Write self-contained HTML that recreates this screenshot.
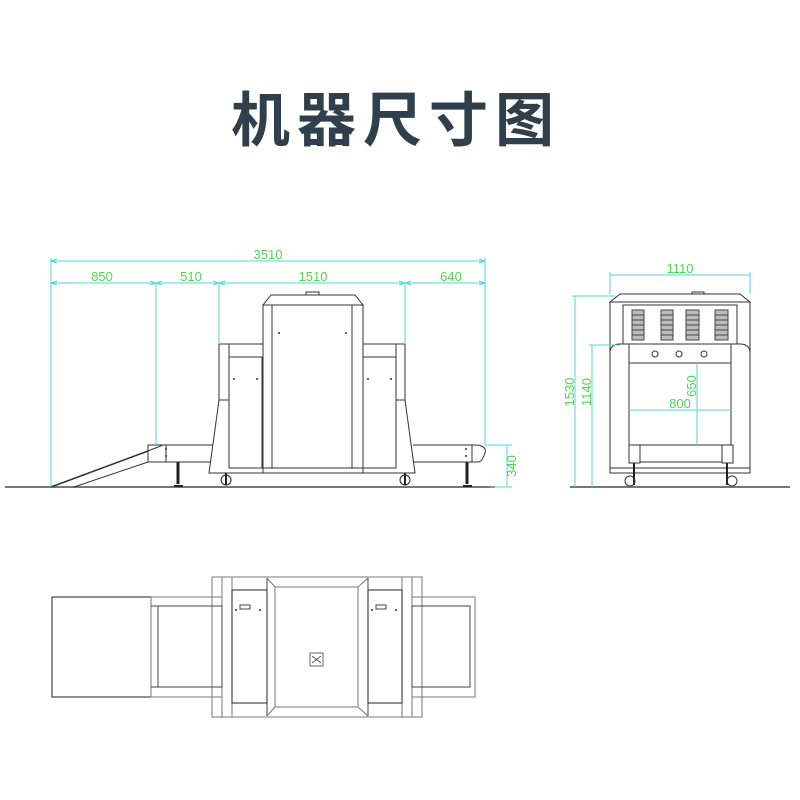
<!DOCTYPE html>
<html><head><meta charset="utf-8"><style>
html,body{margin:0;padding:0;background:#fff;width:800px;height:800px;overflow:hidden}
</style></head><body>
<svg width="800" height="800" viewBox="0 0 800 800" xmlns="http://www.w3.org/2000/svg">
<text x="396" y="141" text-anchor="middle" font-family="'Liberation Sans','Noto Sans CJK SC',sans-serif" font-weight="bold" font-size="59" letter-spacing="7" fill="#2f3f4b">机器尺寸图</text>

<g fill="none" stroke="#333" stroke-width="1">
<line x1="5" y1="487" x2="495" y2="487" stroke="#777" stroke-width="2"/>
<polygon points="263,305 271,295 355,295 363,305"/>
<rect x="306" y="292" width="13" height="3"/>
<rect x="263" y="305" width="100" height="168"/>
<rect x="272" y="305" width="80" height="163"/>
<polyline points="263,344 219,344 219,400 209,473 263,473"/>
<line x1="229" y1="344" x2="229" y2="468"/>
<line x1="219" y1="400" x2="229" y2="400"/>
<rect x="229" y="357" width="33" height="111"/>
<polyline points="363,344 405,344 405,400 415,473 363,473"/>
<line x1="396" y1="344" x2="396" y2="468"/>
<line x1="405" y1="400" x2="396" y2="400"/>
<rect x="363" y="357" width="33" height="111"/>
<line x1="229" y1="468" x2="396" y2="468"/>
<polyline points="213,445 163,445 148,451"/>
<line x1="163" y1="462" x2="211" y2="462"/>
<rect x="148" y="445" width="18" height="17"/>
<line x1="148" y1="451" x2="51" y2="487" stroke-width="1.5"/>
<line x1="148" y1="462" x2="74" y2="487"/>
<line x1="413" y1="445" x2="478" y2="445"/>
<line x1="413" y1="462" x2="478" y2="462"/>
<path d="M478,445 Q487,447 485,453 Q482,462 478,462"/>
<line x1="472" y1="445" x2="472" y2="462"/>
<g stroke="#222"><line x1="178" y1="462" x2="178" y2="484" stroke-width="3"/><line x1="174" y1="486" x2="183" y2="486" stroke-width="2"/>
<line x1="467" y1="462" x2="467" y2="484" stroke-width="3"/><line x1="463" y1="486" x2="472" y2="486" stroke-width="2"/>
<circle cx="226" cy="480" r="5"/><line x1="226" y1="473" x2="226" y2="485" stroke-width="2"/>
<circle cx="405" cy="480" r="5"/><line x1="405" y1="473" x2="405" y2="485" stroke-width="2"/></g>
</g>
<g fill="#333"><circle cx="279" cy="333" r="1"/><circle cx="346" cy="333" r="1"/><circle cx="234" cy="379" r="1"/><circle cx="257" cy="379" r="1"/><circle cx="368" cy="379" r="1"/><circle cx="391" cy="379" r="1"/><circle cx="166" cy="449" r="1"/><circle cx="166" cy="456" r="1"/><circle cx="466" cy="449" r="1"/><circle cx="466" cy="456" r="1"/></g>

<g stroke="#4fd7e0" stroke-width="1" fill="none">
<line x1="51" y1="261" x2="485" y2="261"/>
<line x1="51" y1="283" x2="485" y2="283"/>
<line x1="51" y1="258" x2="51" y2="487"/>
<line x1="485" y1="258" x2="485" y2="445"/>
<line x1="156" y1="283" x2="156" y2="445"/>
<line x1="219" y1="283" x2="219" y2="344"/>
<line x1="405" y1="283" x2="405" y2="344"/>
<line x1="507" y1="445" x2="507" y2="487"/>
<line x1="485" y1="445" x2="512" y2="445"/>
<line x1="490" y1="487" x2="512" y2="487"/>
<path d="M57,259L51,261L57,263M479,259L485,261L479,263M57,281L51,283L57,285M150,281L156,283L150,285M162,281L156,283L162,285M213,281L219,283L213,285M225,281L219,283L225,285M399,281L405,283L399,285M411,281L405,283L411,285M479,281L485,283L479,285"/>
</g>
<g fill="#4fd74f" font-family="'Liberation Sans',sans-serif" font-size="13" text-anchor="middle">
<text x="268" y="259">3510</text><text x="102" y="281">850</text><text x="191" y="281">510</text><text x="313" y="281">1510</text><text x="451" y="281">640</text>
<text transform="translate(516,466) rotate(-90)">340</text>
</g>

<g fill="none" stroke="#333" stroke-width="1">
<line x1="570" y1="487" x2="790" y2="487" stroke="#777" stroke-width="2"/>
<polygon points="610,302 620,294 740,294 750,302"/>
<rect x="692" y="292" width="12" height="2"/>
<path d="M610,302 V473 H750 V302"/>
<rect x="623" y="305" width="114" height="39"/>
<path d="M610,352 Q611,344 620,344 H740 Q749,344 750,352"/>
<rect x="629" y="344" width="102" height="101"/>
<line x1="629" y1="363" x2="731" y2="363"/>
<circle cx="655" cy="354" r="3"/><circle cx="679" cy="354" r="3"/><circle cx="704" cy="354" r="3"/>
<rect x="640" y="445" width="82" height="17"/>
<line x1="610" y1="468" x2="750" y2="468"/>
<rect x="629" y="445" width="11" height="18"/><rect x="722" y="445" width="11" height="18"/>
<g stroke="#222" stroke-width="2"><line x1="634" y1="463" x2="634" y2="485"/><line x1="727" y1="463" x2="727" y2="485"/></g>
<circle cx="630" cy="481" r="5"/><circle cx="732" cy="481" r="5"/>
</g>
<g fill="#bbb" stroke="#444" stroke-width="1">
<rect x="632" y="310" width="12" height="30"/><rect x="661" y="310" width="12" height="30"/><rect x="686" y="310" width="13" height="30"/><rect x="715" y="310" width="13" height="30"/>
</g>
<g stroke="#444" stroke-width="1">
<path d="M632,315h12M632,320h12M632,325h12M632,330h12M632,335h12"/>
<path d="M661,315h12M661,320h12M661,325h12M661,330h12M661,335h12"/>
<path d="M686,315h13M686,320h13M686,325h13M686,330h13M686,335h13"/>
<path d="M715,315h13M715,320h13M715,325h13M715,330h13M715,335h13"/>
</g>
<g stroke="#4fd7e0" stroke-width="1" fill="none">
<line x1="610" y1="275" x2="750" y2="275"/>
<line x1="750" y1="272" x2="750" y2="294"/>
<line x1="610" y1="272" x2="610" y2="294"/>
<line x1="575" y1="296" x2="575" y2="487"/><line x1="572" y1="296" x2="615" y2="296"/>
<line x1="592" y1="345" x2="592" y2="487"/><line x1="589" y1="345" x2="620" y2="345"/>
<line x1="697" y1="363" x2="697" y2="445"/>
<line x1="629" y1="410" x2="731" y2="410"/>
</g>
<g fill="#4fd74f" font-family="'Liberation Sans',sans-serif" font-size="13" text-anchor="middle">
<text x="680" y="273">1110</text><text x="680" y="408">800</text>
<text transform="translate(574,392) rotate(-90)">1530</text>
<text transform="translate(591,392) rotate(-90)">1140</text>
<text transform="translate(696,386) rotate(-90)">650</text>
</g>

<g fill="none" stroke="#444" stroke-width="1">
<rect x="212" y="577" width="210" height="140" stroke="#777"/>
<line x1="222" y1="577" x2="222" y2="717" stroke="#777"/><line x1="232" y1="577" x2="232" y2="717" stroke="#777"/>
<line x1="402" y1="577" x2="402" y2="717" stroke="#777"/><line x1="412" y1="577" x2="412" y2="717" stroke="#777"/>
<line x1="267" y1="578" x2="267" y2="716"/><line x1="368" y1="578" x2="368" y2="716"/>
<rect x="275" y="587" width="83" height="120" stroke="#777"/>
<path d="M267,578L275,587M368,578L358,587M267,716L275,707M368,716L358,707" stroke="#777"/>
<rect x="232" y="590" width="35" height="113" stroke="#222"/>
<rect x="368" y="590" width="34" height="113" stroke="#222"/>
<rect x="240" y="605" width="10" height="4"/><rect x="376" y="605" width="10" height="4"/>
<rect x="52" y="597" width="99" height="100" stroke="#222"/>
<rect x="151" y="597" width="71" height="100" stroke="#777"/>
<rect x="158" y="606" width="64" height="81"/>
<line x1="151" y1="606" x2="158" y2="606"/><line x1="151" y1="687" x2="158" y2="687"/>
<rect x="412" y="597" width="63" height="100" stroke="#777"/>
<rect x="412" y="606" width="58" height="81"/>
<rect x="310" y="653" width="13" height="13" stroke="#666"/>
<path d="M312,656l9,7M321,656l-9,7" stroke="#555"/>
</g>
<g fill="#333"><circle cx="236" cy="610" r="1"/><circle cx="260" cy="610" r="1"/><circle cx="372" cy="610" r="1"/><circle cx="396" cy="610" r="1"/></g>
</svg>
</body></html>
